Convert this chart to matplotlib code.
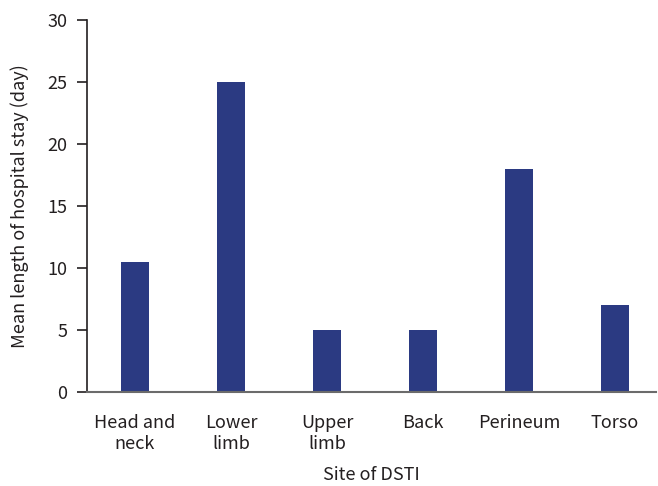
import matplotlib.pyplot as plt

plt.rcParams['font.family'] = ['Noto Sans CJK KR', 'DejaVu Sans']

# data
sites = ["Head and\nneck", "Lower\nlimb", "Upper\nlimb", "Back", "Perineum", "Torso"]
mean_stay = [10.5, 25, 5, 5, 18, 7]

bar_color = "#2b3a82"
text_color = "#231f20"

fig = plt.figure(figsize=(6.58, 4.86), dpi=100)
ax = fig.add_axes([87 / 658, 94 / 486, 569 / 658, 372 / 486])

x = list(range(len(sites)))
ax.bar(x, mean_stay, width=0.3, color=bar_color)

ax.set_xlim(-0.5, 5.427)
ax.set_ylim(0, 30)
ax.set_yticks([0, 5, 10, 15, 20, 25, 30])
ax.set_xticks(x)
ax.set_xticklabels(sites, fontsize=13, color=text_color, linespacing=1.2,
                   multialignment='center')

ax.spines['top'].set_visible(False)
ax.spines['right'].set_visible(False)
ax.spines['left'].set_color("#231f20")
ax.spines['left'].set_linewidth(1.2)
ax.spines['bottom'].set_color("#6b6b6b")
ax.spines['bottom'].set_linewidth(1.5)

ax.tick_params(axis='x', length=0, pad=16)
ax.tick_params(axis='y', length=7, width=1.2, color="#231f20",
               labelsize=13, labelcolor=text_color, pad=7)

ax.set_ylabel("Mean length of hospital stay (day)", fontsize=13,
              color=text_color, labelpad=13)
ax.set_xlabel("Site of DSTI", fontsize=13, color=text_color, labelpad=9)

fig.savefig("out.png", dpi=100)
